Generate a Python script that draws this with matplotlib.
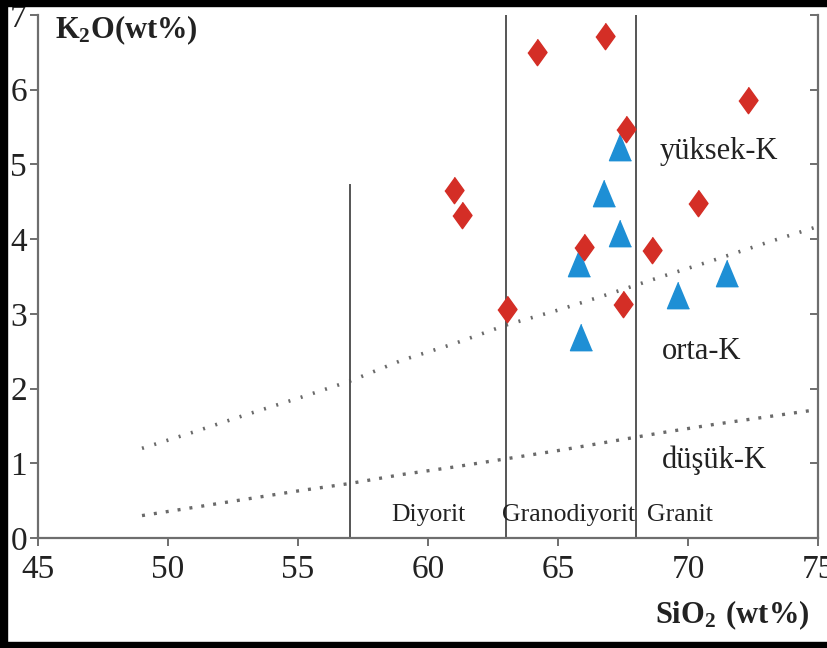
import numpy as np
import matplotlib.pyplot as plt
from matplotlib.patches import Rectangle

plt.rcParams['font.family'] = ['Liberation Serif', 'DejaVu Serif']
plt.rcParams['mathtext.fontset'] = 'custom'
plt.rcParams['mathtext.rm'] = 'Liberation Serif'
plt.rcParams['mathtext.bf'] = 'Liberation Serif:bold'

# samples (SiO2, K2O)
red_sio2 = [64.2, 66.8, 67.6, 72.3, 61.0, 61.3, 70.4, 66.0, 68.6, 63.05, 67.5]
red_k2o = [6.5, 6.72, 5.48, 5.86, 4.66, 4.32, 4.48, 3.9, 3.85, 3.07, 3.13]
blue_sio2 = [67.37, 66.75, 67.4, 65.8, 71.5, 69.6, 65.9]
blue_k2o = [5.23, 4.62, 4.08, 3.68, 3.55, 3.25, 2.69]

# boundary curves
curve_x = [49, 51, 53, 55, 57, 59, 61, 63, 65, 67, 69, 71, 73, 75]
highk_y = [1.2, 1.42, 1.65, 1.87, 2.1, 2.38, 2.6, 2.85, 3.05, 3.27, 3.5, 3.72, 3.95, 4.17]
lowk_y = [0.3, 0.41, 0.52, 0.63, 0.73, 0.85, 0.95, 1.06, 1.17, 1.29, 1.41, 1.52, 1.62, 1.72]

# rock-type dividers
div_x = [57, 63, 68]
div_top = [4.72, 7, 7]

xticks = [45, 50, 55, 60, 65, 70, 75]
yticks = [0, 1, 2, 3, 4, 5, 6, 7]

fig = plt.figure(figsize=(8.28, 6.48), dpi=100)
ax = fig.add_axes([38/828, 110/648, 780/828, 523/648])
ax.set_xlim(45, 75)
ax.set_ylim(0, 7)

grey = '#6e6e6e'
ax.plot(curve_x, highk_y, color='#6a6a6a', lw=2.6, linestyle=(0, (0.55, 3.0)))
ax.plot(curve_x, lowk_y, color='#6a6a6a', lw=2.4, linestyle=(0, (0.9, 2.7)))
for x, t in zip(div_x, div_top):
    ax.plot([x, x], [0, t], color='#555555', lw=1.4)

tri = [(0, 0.9), (-0.75, -0.9), (0.75, -0.9)]
dia = [(0, 1), (0.72, 0), (0, -1), (-0.72, 0)]
ax.plot(blue_sio2, blue_k2o, linestyle='none', marker=tri, ms=19,
        color='#1e8fd5', mec='#1e8fd5')
ax.plot(red_sio2, red_k2o, linestyle='none', marker=dia, ms=19,
        color='#d42e26', mec='#d42e26')

for s in ['left', 'bottom', 'right']:
    ax.spines[s].set_color(grey)
    ax.spines[s].set_linewidth(1.6)
ax.spines['top'].set_visible(False)

ax.set_xticks(xticks)
ax.set_yticks(yticks)
ax.tick_params(axis='both', direction='out', length=6, width=1.4, color=grey,
               labelsize=24, labelcolor='#222222')
ax.tick_params(axis='x', pad=6)
ax.tick_params(axis='y', pad=2)

# inward ticks on the right spine
ax2 = ax.twinx()
ax2.set_ylim(0, 7)
ax2.set_yticks(yticks)
ax2.tick_params(axis='y', direction='in', length=6, width=1.4, color=grey, labelright=False)
for s in ['left', 'bottom', 'top', 'right']:
    ax2.spines[s].set_visible(False)

tc = '#222222'
ax.text(68.9, 5.17, 'yüksek-K', fontsize=22, va='center', color=tc)
ax.text(69.0, 2.49, 'orta-K', fontsize=22, va='center', color=tc)
ax.text(69.0, 1.04, 'düşük-K', fontsize=22, va='center', color=tc)
ax.text(58.58, 0.31, 'Diyorit', fontsize=18.5, va='center', color=tc)
ax.text(62.85, 0.31, 'Granodiyorit', fontsize=18.5, va='center', color=tc)
ax.text(68.42, 0.31, 'Granit', fontsize=18.5, va='center', color=tc)

ax.text(45.65, 6.8, r'$\mathbf{K_2O(wt\%)}$', fontsize=22, va='center', color=tc)
fig.text(655/828, 1 - 615/648, r'$\mathbf{SiO_2\ (wt\%)}$', fontsize=22, va='center', color=tc)

# black frame of the scan
fig.patches.append(Rectangle((0, 1 - 6/648), 1, 6/648, transform=fig.transFigure, color='black', zorder=10))
fig.patches.append(Rectangle((0, 0), 7/828, 1, transform=fig.transFigure, color='black', zorder=10))
fig.patches.append(Rectangle((0, 0), 1, 6/648, transform=fig.transFigure, color='black', zorder=10))

fig.savefig('out.png', dpi=100)
